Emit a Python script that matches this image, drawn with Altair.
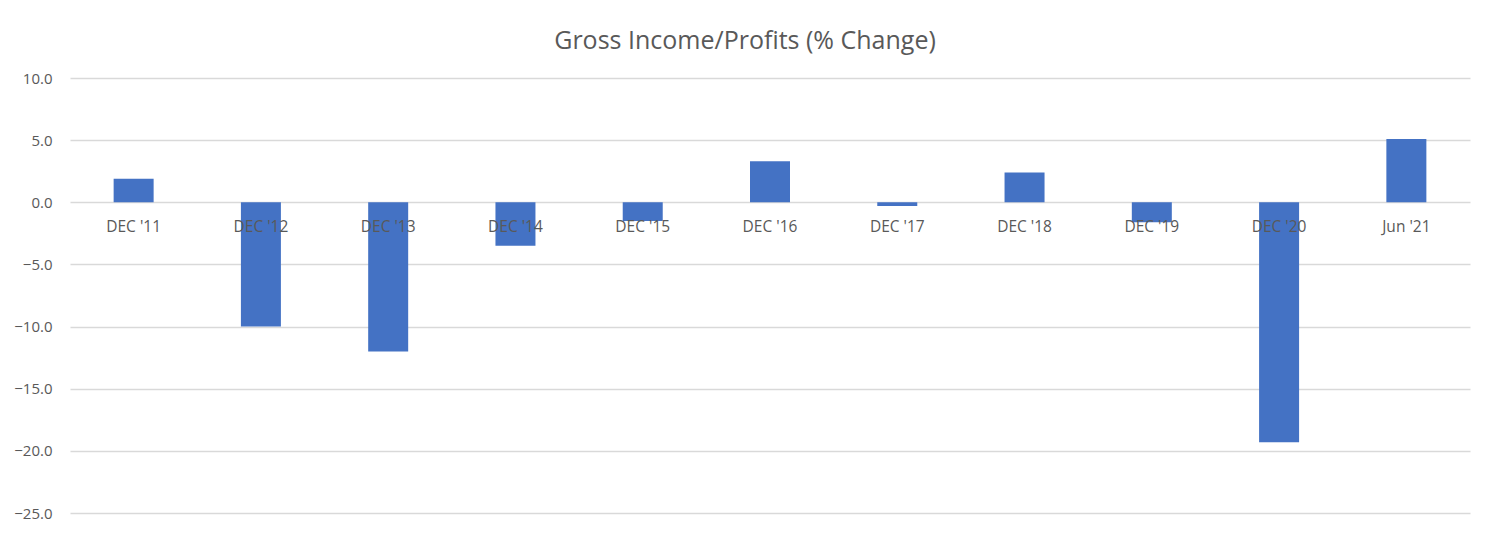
import altair as alt
import pandas as pd

categories = ["DEC '11", "DEC '12", "DEC '13", "DEC '14", "DEC '15", "DEC '16",
              "DEC '17", "DEC '18", "DEC '19", "DEC '20", "Jun '21"]
values = [1.9, -10.0, -12.0, -3.5, -1.5, 3.3, -0.3, 2.4, -1.6, -19.3, 5.1]

df = pd.DataFrame({"period": categories, "change": values})

FONT = "Open Sans"
GREY = "#595959"

x = alt.X("period:N", sort=categories, axis=None,
          scale=alt.Scale(paddingInner=0, paddingOuter=0))
y = alt.Y("change:Q",
          scale=alt.Scale(domain=[-25, 10], nice=False, zero=True),
          axis=alt.Axis(values=[-25, -20, -15, -10, -5, 0, 5, 10], format=".1f",
                        title=None, domain=False, ticks=False,
                        labelFont=FONT, labelFontSize=15, labelColor=GREY,
                        labelPadding=18, gridColor="#d9d9d9", gridWidth=1.5))

bars = alt.Chart(df).mark_bar(size=40, color="#4472C4").encode(x=x, y=y)

labels = alt.Chart(df).mark_text(
    font=FONT, fontSize=15.5, color=GREY, dy=25, baseline="middle", align="center"
).encode(x=x, y=alt.datum(0), text="period:N")

chart = alt.layer(bars, labels).properties(
    width=1400, height=435,
    background="white",
    title=alt.TitleParams("Gross Income/Profits (% Change)", font=FONT,
                          fontSize=25, fontWeight="normal", color=GREY,
                          anchor="middle", offset=17, dx=-25),
    autosize=alt.AutoSizeParams(type="none"),
    padding={"left": 62, "top": 70, "right": 13, "bottom": 14},
).configure_view(stroke="transparent", strokeWidth=0)

chart.save("out.html", embed_options={"renderer": "svg", "actions": False})
